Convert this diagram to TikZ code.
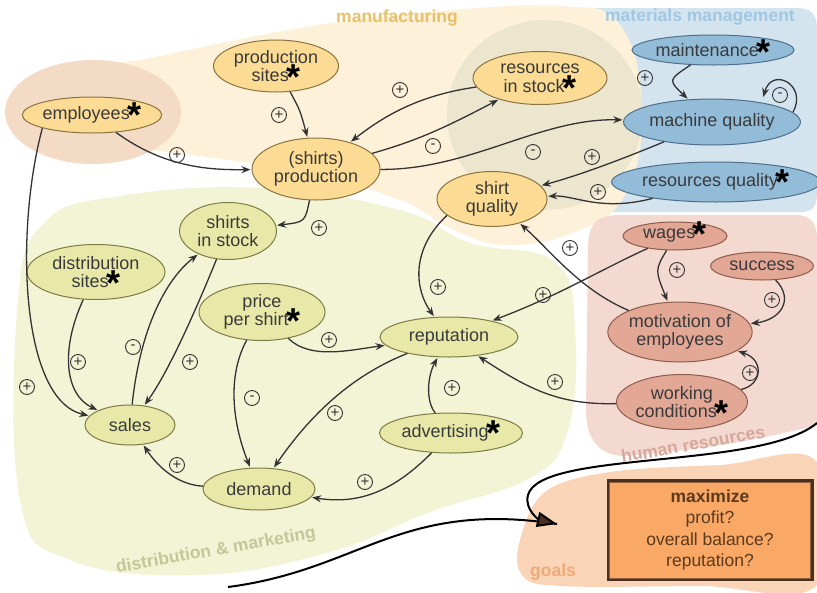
\documentclass[tikz,border=0pt]{standalone}
\usepackage{fontspec}
\setmainfont{Liberation Sans}
\usetikzlibrary{shapes.geometric,arrows.meta}
\definecolor{cream}{HTML}{FDF1D9}
\definecolor{empblob}{HTML}{F4DBC5}
\definecolor{greyblob}{HTML}{ECE6CF}
\definecolor{blueblob}{HTML}{D4E4EF}
\definecolor{greenblob}{HTML}{F3F4D5}
\definecolor{pinkblob}{HTML}{F3D9D0}
\definecolor{goalblob}{HTML}{F9D4B6}
\definecolor{orfill}{HTML}{FCDC94}
\definecolor{ordraw}{HTML}{8A7440}
\definecolor{blfill}{HTML}{93BCD9}
\definecolor{bldraw}{HTML}{4F6F8A}
\definecolor{grfill}{HTML}{E8E9A8}
\definecolor{grdraw}{HTML}{7C7C44}
\definecolor{pkfill}{HTML}{E3A796}
\definecolor{pkdraw}{HTML}{8C5C4C}
\definecolor{boxfill}{HTML}{F9A965}
\definecolor{boxdraw}{HTML}{4A3020}
\definecolor{boxtext}{HTML}{5B3A1E}
\definecolor{txt}{HTML}{3A3A3A}
\definecolor{arrc}{HTML}{333333}
\definecolor{lblman}{HTML}{E9C06A}
\definecolor{lblmat}{HTML}{A0C8E4}
\definecolor{lbldis}{HTML}{C4C79A}
\definecolor{lblhr}{HTML}{D6A89C}
\definecolor{lblgoal}{HTML}{EFAA7A}
\newcommand{\mystar}{\kern-2.5pt\raisebox{-8pt}[0pt][0pt]{\fontsize{36}{36}\selectfont\bfseries\color{black}*}}
\begin{document}
\begin{tikzpicture}[x=1pt,y=-1pt,
  ell/.style={ellipse, inner sep=0pt, line width=1pt, text=txt, align=center,
    font=\fontsize{18}{18.5}\selectfont},
  orn/.style={ell, fill=orfill, draw=ordraw},
  bln/.style={ell, fill=blfill, draw=bldraw},
  grn/.style={ell, fill=grfill, draw=grdraw},
  pkn/.style={ell, fill=pkfill, draw=pkdraw},
  arr/.style={draw=arrc, line width=1.3pt, -{Stealth[length=9pt,width=7pt]}, shorten >=1pt},
  sgn/.style={circle, draw=arrc, line width=0.9pt, minimum size=15pt, inner sep=0pt,
    text=arrc, font=\fontsize{15}{15}\selectfont},
  lbl/.style={font=\fontsize{17.5}{17.5}\selectfont\bfseries}
]
\useasboundingbox (0,0) rectangle (817,592);
\fill[white] (0,0) rectangle (817,592);
% regions
\fill[blueblob] (585,8) .. controls (565,8) and (560,20) .. (560,40) -- (560,190)
  .. controls (560,210) and (570,212) .. (590,212) -- (800,212)
  .. controls (815,212) and (817,205) .. (817,190) -- (817,30)
  .. controls (817,12) and (810,8) .. (795,8) -- cycle;
\fill[cream] plot[smooth cycle, tension=0.7] coordinates {(40,80) (150,58) (300,28) (430,12) (560,6) (620,25) (642,110) (625,195) (575,232) (505,245) (450,228) (400,200) (300,172) (150,150) (60,145)};
\fill[greyblob] (545,115) ellipse [x radius=98, y radius=95];
\fill[empblob] (93,112) ellipse [x radius=88, y radius=52];
\fill[greenblob] plot[smooth cycle, tension=0.7] coordinates {(18,300) (45,222) (120,196) (260,188) (400,210) (470,243) (555,262) (575,330) (568,430) (530,478) (430,512) (330,552) (200,575) (70,560) (20,500)};
\fill[pinkblob] (620,215) .. controls (595,215) and (588,225) .. (588,250) -- (586,410)
  .. controls (586,440) and (600,456) .. (625,456)
  .. controls (700,450) and (760,440) .. (817,425) -- (817,240)
  .. controls (817,222) and (810,215) .. (795,215) -- cycle;
\fill[goalblob] plot[smooth cycle, tension=0.6] coordinates {(520,540) (545,492) (610,472) (720,465) (817,462) (817,585) (700,586) (560,586) (522,575)};
% region labels
\node[lbl, text=lblman] (Lman) at (397,18) {manufacturing};
\node[lbl, text=lblmat] (Lmat) at (700,17) {materials management};
\node[lbl, text=lbldis, rotate=10] (Ldis) at (216,551) {distribution \& marketing};
\node[lbl, text=lblhr, rotate=10] (Lhr) at (693,444) {human resources};
\node[lbl, text=lblgoal] (Lgoal) at (553,572) {goals};
% nodes
\node[orn, minimum width=129pt, minimum height=36pt] (emp) at (92,115) {employees\mystar};
\node[orn, minimum width=125pt, minimum height=52pt] (psites) at (276,66) {production\\sites\mystar};
\node[orn, minimum width=128pt, minimum height=62pt] (prod) at (316,169) {(shirts)\\production};
\node[orn, minimum width=134pt, minimum height=53pt] (rstock) at (540,78) {resources\\in stock\mystar};
\node[orn, minimum width=110pt, minimum height=55pt] (squal) at (492,199) {shirt\\quality};
\node[bln, minimum width=153pt, minimum height=30pt] (maint) at (713,50) {maintenance\mystar};
\node[bln, minimum width=155pt, minimum height=46pt] (mq) at (712,122) {machine quality};
\node[bln, minimum width=177pt, minimum height=40pt] (rq) at (716,182) {resources quality\mystar};
\node[grn, minimum width=97pt, minimum height=57pt] (sstock) at (228,231) {shirts\\in stock};
\node[grn, minimum width=138pt, minimum height=55pt] (dsites) at (96,272) {distribution\\sites\mystar};
\node[grn, minimum width=126pt, minimum height=57pt] (price) at (262,312) {price\\per shirt\mystar};
\node[grn, minimum width=138pt, minimum height=40pt] (rep) at (449,337) {reputation};
\node[grn, minimum width=90pt, minimum height=40pt] (sales) at (130,425) {sales};
\node[grn, minimum width=112pt, minimum height=42pt] (demand) at (259,489) {demand};
\node[grn, minimum width=143pt, minimum height=40pt] (adv) at (451,433) {advertising\mystar};
\node[pkn, minimum width=104pt, minimum height=28pt] (wages) at (675,236) {wages\mystar};
\node[pkn, minimum width=103pt, minimum height=28pt] (success) at (762,266) {success};
\node[pkn, minimum width=144pt, minimum height=60pt] (motiv) at (680,332) {motivation of\\employees};
\node[pkn, minimum width=121pt, minimum height=55pt] (wcond) at (682,402) {working\\conditions\mystar};
\node[draw=boxdraw, line width=3pt, fill=boxfill,
  minimum width=204pt, minimum height=99pt, text=boxtext, align=center,
  font=\fontsize{17.5}{21.5}\selectfont] (goal) at (710,530)
  {\textbf{maximize}\\profit?\\overall balance?\\reputation?};
\draw[draw=boxdraw!60!boxfill, line width=0.8pt] ([shift={(3,-3)}]goal.south west) rectangle ([shift={(-3,3)}]goal.north east);
% connectors
\draw[arr] (emp) .. controls (165,168) and (210,170) .. (prod);
\draw[arr] (psites) .. controls (300,110) .. (prod);
\draw[arr] (rstock) .. controls (420,95) and (385,115) .. (prod);
\draw[arr] (prod) .. controls (420,140) and (450,125) .. (rstock);
\draw[arr] (prod) .. controls (470,170) and (540,118) .. (mq);
\draw[arr] (mq) .. controls (620,160) and (580,175) .. (squal);
\draw[arr] (rq) .. controls (600,212) and (575,195) .. (squal);
\draw[arr] (maint) .. controls (668,80) .. (mq);
\coordinate (loopS) at (793,112);
\coordinate (loopE) at (763,98);
\draw[arr] (loopS) .. controls (808,85) and (772,66) .. (loopE);
\draw[arr] (prod) .. controls (305,222) .. (sstock);
\draw[arr] (emp.south west) .. controls (15,230) and (20,400) .. (sales);
\draw[arr] (dsites) .. controls (60,350) and (65,395) .. (sales);
\draw[arr] (sales) .. controls (140,330) and (165,280) .. (sstock);
\draw[arr] (sstock) .. controls (200,300) and (170,370) .. (sales);
\draw[arr] (price) .. controls (310,360) and (350,350) .. (rep);
\draw[arr] (price) .. controls (225,380) and (235,430) .. (demand);
\draw[arr] (rep) .. controls (340,380) and (300,430) .. (demand);
\draw[arr] (adv) .. controls (425,400) and (428,375) .. (rep);
\draw[arr] (adv) .. controls (395,490) and (360,505) .. (demand);
\draw[arr] (demand) .. controls (180,485) and (160,470) .. (sales);
\draw[arr] (squal.200) .. controls (410,250) and (415,290) .. (rep);
\draw[arr] (wages) .. controls (600,270) and (560,295) .. (rep);
\draw[arr] (motiv) .. controls (580,290) and (550,250) .. (squal);
\draw[arr] (wages) .. controls (655,270) .. (motiv);
\draw[arr] (success) .. controls (795,300) and (780,320) .. (motiv);
\draw[arr] (wcond) .. controls (762,385) and (765,360) .. (motiv);
\draw[arr] (wcond) .. controls (560,405) and (530,390) .. (rep);
% big arrow to goals
\coordinate (bigL) at (228,587);
\coordinate (bigR) at (817,423);
\coordinate (bigT) at (557,524);
\draw[line width=2pt, draw=black] (bigL) .. controls (360,570) and (400,500) .. (bigT);
\draw[line width=2pt, draw=black, -{Triangle[length=20pt,width=15pt,fill=boxdraw]}] (bigR) .. controls (760,470) and (540,450) .. (528,495) .. controls (524,510) and (540,520) .. (bigT);
% signs
\foreach \n/\p/\s in {s1/{(177,155)}/+, s2/{(279,115)}/+, s3/{(400,90)}/+, s4/{(433,146)}/-, s5/{(533,152)}/-, s6/{(592,157)}/+, s7/{(598,192)}/+, s8/{(645,78)}/+, s9/{(780,95)}/-, s10/{(319,228)}/+, s11/{(78,362)}/+, s12/{(133,347)}/-, s13/{(190,362)}/+, s14/{(27,387)}/+, s15/{(329,340)}/+, s16/{(252,398)}/-, s17/{(335,413)}/+, s18/{(177,465)}/+, s19/{(365,482)}/+, s20/{(438,287)}/+, s21/{(543,295)}/+, s22/{(570,248)}/+, s23/{(677,270)}/+, s24/{(772,300)}/+, s25/{(750,373)}/+, s26/{(555,382)}/+, s27/{(452,388)}/+}
  \node[sgn] (\n) at \p {\s};
\end{tikzpicture}
\end{document}
